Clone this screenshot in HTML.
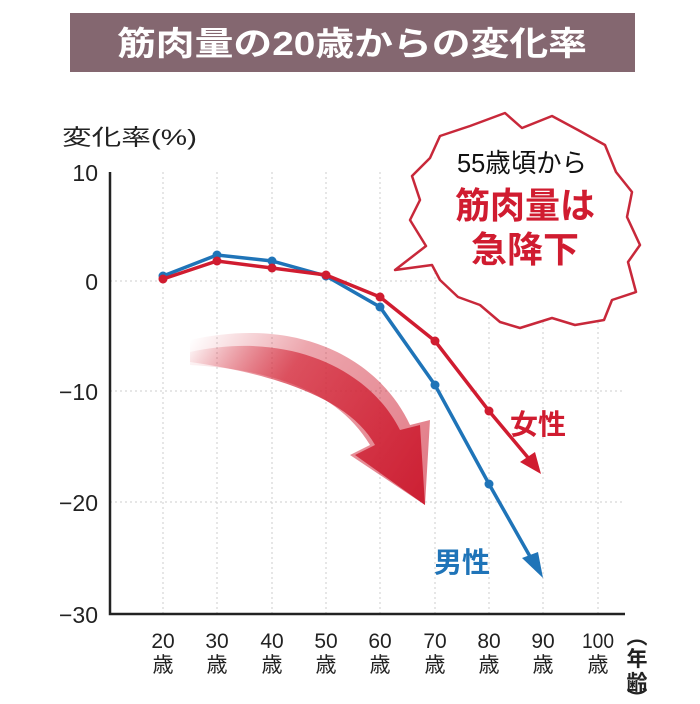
<!DOCTYPE html>
<html><head><meta charset="utf-8"><style>
body{margin:0;background:#fff;width:700px;height:704px;overflow:hidden}
svg{display:block}
text{font-family:"Liberation Sans","Noto Sans CJK JP",sans-serif}
</style></head><body>
<svg width="700" height="704" viewBox="0 0 700 704">
<defs>
<linearGradient id="g" x1="190" y1="340" x2="430" y2="500" gradientUnits="userSpaceOnUse">
<stop offset="0" stop-color="#d42b3c" stop-opacity="0"/>
<stop offset="0.35" stop-color="#d42b3c" stop-opacity="0.7"/>
<stop offset="1" stop-color="#cc1f33"/>
</linearGradient>
</defs>
<rect x="70" y="13" width="565" height="59" fill="#846770"/>
<text x="352" y="55" font-size="33" font-weight="bold" fill="#fff" text-anchor="middle" textLength="470" lengthAdjust="spacingAndGlyphs">筋肉量の20歳からの変化率</text>
<text x="62" y="145" font-size="22" fill="#222" textLength="135" lengthAdjust="spacingAndGlyphs">変化率(%)</text>
<g stroke="#ccc" stroke-dasharray="2,3" stroke-width="1">
<line x1="163" y1="172" x2="163" y2="614"/><line x1="217" y1="172" x2="217" y2="614"/>
<line x1="272" y1="172" x2="272" y2="614"/><line x1="326" y1="172" x2="326" y2="614"/>
<line x1="380" y1="172" x2="380" y2="614"/><line x1="435" y1="172" x2="435" y2="614"/>
<line x1="489" y1="172" x2="489" y2="614"/><line x1="543" y1="172" x2="543" y2="614"/>
<line x1="598" y1="172" x2="598" y2="614"/>
<line x1="110" y1="281" x2="625" y2="281"/><line x1="110" y1="391" x2="625" y2="391"/><line x1="110" y1="502" x2="625" y2="502"/>
</g>
<polyline points="110,172 110,614 625,614" fill="none" stroke="#222" stroke-width="2.5"/>
<g font-size="23" fill="#222" text-anchor="end">
<text x="98" y="181">10</text><text x="98" y="290">0</text><text x="98" y="400">−10</text><text x="98" y="511">−20</text><text x="98" y="623">−30</text>
</g>
<g font-size="21" fill="#222" text-anchor="middle">
<text x="163" y="648">20</text><text x="217" y="648">30</text><text x="272" y="648">40</text><text x="326" y="648">50</text><text x="380" y="648">60</text><text x="435" y="648">70</text><text x="489" y="648">80</text><text x="543" y="648">90</text><text x="598" y="648" textLength="32" lengthAdjust="spacingAndGlyphs">100</text>
<text x="163" y="672">歳</text><text x="217" y="672">歳</text><text x="272" y="672">歳</text><text x="326" y="672">歳</text><text x="380" y="672">歳</text><text x="435" y="672">歳</text><text x="489" y="672">歳</text><text x="543" y="672">歳</text><text x="598" y="672">歳</text>
</g>
<g font-size="21" font-weight="bold" fill="#222" text-anchor="middle">
<text x="637" y="644">︵</text><text x="637" y="666">年</text><text x="637" y="690">齢</text><text x="637" y="706">︶</text>
</g>
<path d="M190,352 C290,330 370,370 400,430 L420,425 L425,505 L355,455 L375,445 C350,400 280,375 190,362 Z" fill="url(#g)"/>
<path d="M190,340 C300,315 380,360 410,425 L430,420 L425,505 L350,455 L370,445 C340,395 280,370 190,365 Z" fill="url(#g)" opacity="0.6"/>
<polyline points="163,276 217,255 272,261 326,276 380,307 435,385 489,484 532,560" fill="none" stroke="#1f74b8" stroke-width="3.5"/>
<polygon points="543,578 522,558 538,552" fill="#1f74b8"/>
<g fill="#1f74b8"><circle cx="163" cy="276" r="4.5"/><circle cx="217" cy="255" r="4.5"/><circle cx="272" cy="261" r="4.5"/><circle cx="326" cy="276" r="4.5"/><circle cx="380" cy="307" r="4.5"/><circle cx="435" cy="385" r="4.5"/><circle cx="489" cy="484" r="4.5"/></g>
<polyline points="163,279 217,261 272,268 326,275 380,297 435,341 489,411 530,460" fill="none" stroke="#d01c30" stroke-width="3.5"/>
<polygon points="541,474 520,462 535,452" fill="#d01c30"/>
<g fill="#d01c30"><circle cx="163" cy="279" r="4.5"/><circle cx="217" cy="261" r="4.5"/><circle cx="272" cy="268" r="4.5"/><circle cx="326" cy="275" r="4.5"/><circle cx="380" cy="297" r="4.5"/><circle cx="435" cy="341" r="4.5"/><circle cx="489" cy="411" r="4.5"/></g>
<text x="510" y="434" font-size="28" font-weight="bold" fill="#d01c30">女性</text>
<text x="434" y="572" font-size="28" font-weight="bold" fill="#1f74b8">男性</text>
<path d="M505,113 L522,128 L552,116 L578,130 L605,145 L616,172 L632,192 L627,217 L640,245 L628,262 L636,292 L612,300 L604,320 L575,325 L552,318 L520,328 L500,322 L480,305 L458,297 L440,280 L432,265 L395,270 L426,246 L410,220 L420,200 L412,176 L430,158 L440,136 L470,126 Z" fill="#fff" stroke="#c8283a" stroke-width="2.5" stroke-linejoin="round"/>
<text x="522" y="172" font-size="26" fill="#111" text-anchor="middle" textLength="130" lengthAdjust="spacingAndGlyphs">55歳頃から</text>
<text x="525" y="218" font-size="36" font-weight="bold" fill="#d01c30" text-anchor="middle" textLength="140" lengthAdjust="spacingAndGlyphs">筋肉量は</text>
<text x="525" y="262" font-size="36" font-weight="bold" fill="#d01c30" text-anchor="middle" textLength="108" lengthAdjust="spacingAndGlyphs">急降下</text>
</svg>
</body></html>
